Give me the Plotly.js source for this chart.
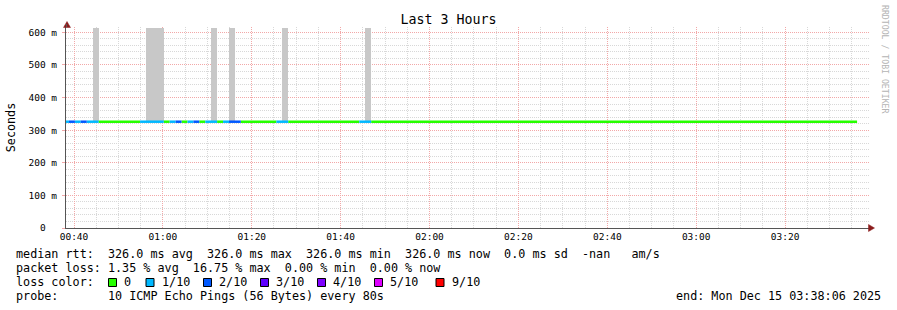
<!DOCTYPE html>
<html><head><meta charset="utf-8">
<script src="https://cdn.plot.ly/plotly-3.0.1.min.js"></script>
<style>html,body{margin:0;padding:0;background:#fff;} #chart{width:897px;height:310px;}</style>
</head><body><div id="chart"></div>
<script>
const day = '2025-12-15';
// median rtt line, split into runs of equal packet loss (times of day)
const segStart = ['00:38:06','00:38:52','00:40:12','00:41:32','00:42:52','00:45:32','00:54:52','01:00:12','01:01:32','01:02:52','01:04:12','01:05:32','01:06:52','01:08:12','01:09:32','01:12:12','01:13:32','01:14:52','01:17:32','01:25:32','01:28:12','01:44:12','01:46:52'];
const segEnd   = ['00:38:52','00:40:12','00:41:32','00:42:52','00:45:32','00:54:52','01:00:12','01:01:32','01:02:52','01:04:12','01:05:32','01:06:52','01:08:12','01:09:32','01:12:12','01:13:32','01:14:52','01:17:32','01:25:32','01:28:12','01:44:12','01:46:52','03:36:12'];
const segLoss  = [1,2,1,2,1,0,1,0,1,2,0,1,2,0,1,0,1,2,0,1,0,1,0]; // lost pings out of 10
const segMedian = [0.326,0.326,0.326,0.326,0.326,0.326,0.326,0.326,0.326,0.326,0.326,0.326,0.326,0.326,0.326,0.326,0.326,0.326,0.326,0.326,0.326,0.326,0.326]; // seconds

// smoke (spread of the pings), one 80 s step each
const smokeStart = ['00:44:12','00:56:12','00:57:32','00:58:52','01:10:52','01:14:52','01:26:52','01:45:32'];
const smokeLow   = [0.326,0.326,0.326,0.326,0.326,0.326,0.326,0.326];
const smokeHigh  = [0.612,0.612,0.612,0.612,0.612,0.612,0.612,0.612];
const stepSeconds = 80;

const lossLevels = [0,1,2,3,4,5,9];
const lossLabels = ['0','1/10','2/10','3/10','4/10','5/10','9/10'];
const lossColors = ['#26ff00','#00b8ff','#0059ff','#5e00ff','#7e00ff','#dd00ff','#ff0000'];

const yTickVals = [0,0.1,0.2,0.3,0.4,0.5,0.6];
const yTickText = ['0\u00a0\u00a0','100 m','200 m','300 m','400 m','500 m','600 m'];
const xTickVals = ['00:40','01:00','01:20','01:40','02:00','02:20','02:40','03:00','03:20'];

const rttStats = [326.0, 326.0, 326.0, 326.0]; // avg, max, min, now (ms)
const rttSd = 0.0;
const lossStats = [1.35, 16.75, 0.00, 0.00]; // avg, max, min, now (%)
const endText = 'end: Mon Dec 15 03:38:06 2025';
const probeText = '10 ICMP Echo Pings (56 Bytes) every 80s';

// ---------- build ----------
const T = t => day + ' ' + t;
const traces = [];
traces.push({
  type:'bar', x: smokeStart.map(T), base: smokeLow,
  y: smokeHigh.map((h,i)=>h - smokeLow[i]),
  width: smokeStart.map(()=>stepSeconds*1000), offset: 0,
  marker:{color:'#c8c8c8', line:{width:0}}, hoverinfo:'skip'
});
lossLevels.forEach((lv, li) => {
  const xs=[], ys=[];
  segLoss.forEach((l,i)=>{ if(l===lv){ xs.push(T(segStart[i]),T(segEnd[i]),null); ys.push(segMedian[i],segMedian[i],null);} });
  if(xs.length) traces.push({type:'scatter', mode:'lines', x:xs, y:ys, connectgaps:false,
    line:{color:lossColors[li], width:2.5}, hoverinfo:'skip'});
});

const W=897, H=310, L=66, R=28, TOP=27, B=82;
const pw = W-L-R, ph = H-TOP-B;
const px = x => (x-L)/pw;
const py = y => (H-B-y)/ph;
const nb = s => s.replace(/ /g,'\u00a0');
const mono = 'DejaVu Sans Mono, monospace';
const fs = 11.75;

const line1 = 'median rtt:  ' + rttStats[0].toFixed(1)+' ms avg  ' + rttStats[1].toFixed(1)+' ms max  ' +
  rttStats[2].toFixed(1)+' ms min  ' + rttStats[3].toFixed(1)+' ms now  ' + rttSd.toFixed(1)+' ms sd  -nan   am/s';
const line2 = 'packet loss: ' + lossStats[0].toFixed(2)+' % avg  ' + lossStats[1].toFixed(2)+' % max  ' +
  lossStats[2].toFixed(2)+' % min  ' + lossStats[3].toFixed(2)+' % now';
const line4 = 'probe:       ' + probeText;

const ann = [];
const txt = (x,y,s,opt={}) => ann.push(Object.assign({xref:'paper',yref:'paper',x:px(x),y:py(y),text:nb(s),
  showarrow:false,xanchor:'left',yanchor:'middle',borderpad:0,borderwidth:0,font:{family:mono,size:fs,color:'#000'}},opt));
txt(16,254,line1);
txt(16,268,line2);
txt(16,282,'loss color:');
txt(16,296,line4);
txt(881,296,endText,{xanchor:'right'});
const swX = [108.5,146,203.5,260.5,317.5,374.5,436];
const shapes = [];
lossLabels.forEach((lab,i)=>{
  shapes.push({type:'rect',xref:'paper',yref:'paper',x0:px(swX[i]),x1:px(swX[i]+8),y0:py(286.5),y1:py(278.5),
    fillcolor:lossColors[i],line:{color:'#000',width:1}});
  txt(swX[i]+15.5,282,lab);
});
ann.push({xref:'paper',yref:'paper',x:px(885),y:py(59),text:'RRDTOOL / TOBI OETIKER',textangle:90,showarrow:false,
  xanchor:'center',yanchor:'middle',font:{family:mono,size:8.2,color:'#b4b4b4'}});
// axis arrows
const arrowCol = '#8b1c1c';
shapes.push({type:'path',xref:'paper',yref:'paper',
  path:`M ${px(67)} ${py(21.5)} L ${px(63.5)} ${py(27.5)} L ${px(70.5)} ${py(27.5)} Z`,fillcolor:arrowCol,line:{color:arrowCol,width:0.5}});
shapes.push({type:'path',xref:'paper',yref:'paper',
  path:`M ${px(874.5)} ${py(228)} L ${px(868.5)} ${py(224.5)} L ${px(868.5)} ${py(231.5)} Z`,fillcolor:arrowCol,line:{color:arrowCol,width:0.5}});
// extend y axis line up to the arrow
shapes.push({type:'line',xref:'paper',yref:'paper',x0:px(66.5),x1:px(66.5),y0:1,y1:py(24),line:{color:'#555',width:1}});

const majorGrid = '#f2a8a8';
const minorGrid = '#d8d8d8';
const layout = {
  width:W, height:H, margin:{l:L,r:R,t:TOP,b:B,pad:0},
  paper_bgcolor:'#fff', plot_bgcolor:'#fff', showlegend:false, bargap:0,
  font:{family:mono, size:9.5, color:'#000'},
  title:{text:'Last 3 Hours', font:{family:mono,size:13.3,color:'#000'}, x:0.5, xref:'container', xanchor:'center',
    y:1-19.5/H, yref:'container', yanchor:'middle'},
  xaxis:{type:'date', range:[T('00:38:12'), T('03:38:53')],
    tickmode:'array', tickvals:xTickVals.map(t=>T(t+':00')), ticktext:xTickVals,
    showgrid:true, gridcolor:majorGrid, griddash:'1px,1px', gridwidth:1,
    ticks:'', ticklabelstandoff:0,
    minor:{tickmode:'linear', tick0:T('00:00:00'), dtick:300000, showgrid:true, gridcolor:minorGrid, griddash:'1px,1px', ticks:''},
    showline:true, linecolor:'#555', linewidth:1, zeroline:false, fixedrange:true,
    tickfont:{family:mono,size:9.5,color:'#000'}},
  yaxis:{range:[0,0.6165], tickmode:'array', tickvals:yTickVals, ticktext:yTickText,
    showgrid:true, gridcolor:majorGrid, griddash:'1px,1px', gridwidth:1,
    ticks:'outside', ticklen:3, tickcolor:majorGrid, ticklabelstandoff:3,
    minor:{tickmode:'linear', tick0:0, dtick:0.02, showgrid:true, gridcolor:minorGrid, griddash:'1px,1px', ticks:''},
    showline:true, linecolor:'#555', linewidth:1, zeroline:false, fixedrange:true,
    title:{text:'Seconds', font:{family:mono,size:fs,color:'#000'}, standoff:10},
    tickfont:{family:mono,size:9.5,color:'#000'}},
  annotations:ann, shapes:shapes
};
Plotly.newPlot('chart', traces, layout, {displayModeBar:false, staticPlot:true});
</script></body></html>
